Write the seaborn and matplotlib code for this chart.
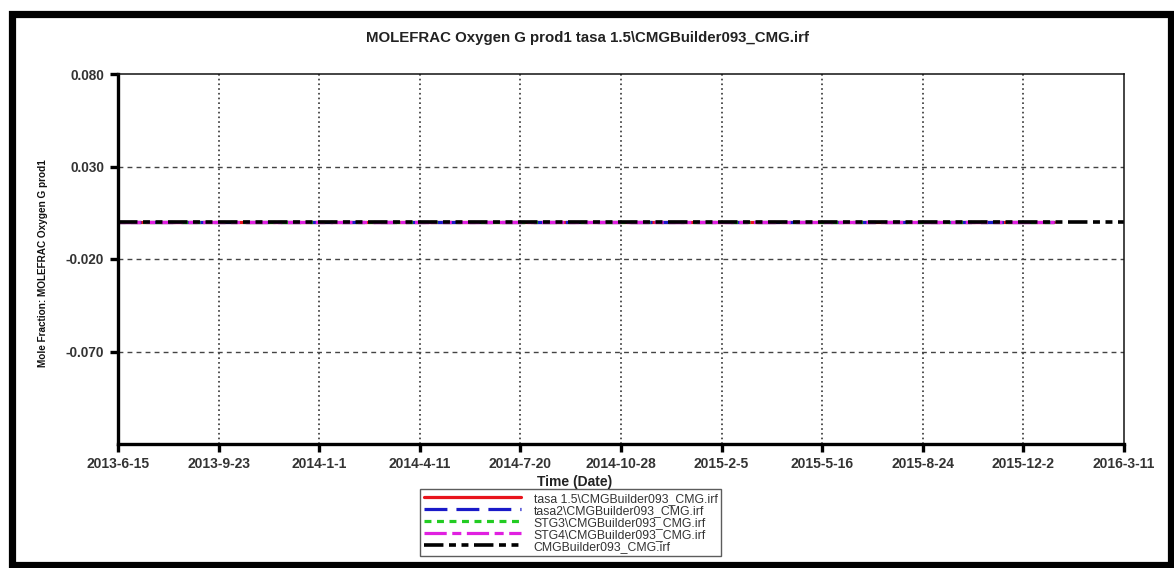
import numpy as np
import pandas as pd
import matplotlib
matplotlib.use('Agg')
import matplotlib.pyplot as plt
import seaborn as sns
from matplotlib.patches import Rectangle

# data
series_names = ['tasa 1.5\\CMGBuilder093_CMG.irf', 'tasa2\\CMGBuilder093_CMG.irf',
                'STG3\\CMGBuilder093_CMG.irf', 'STG4\\CMGBuilder093_CMG.irf',
                'CMGBuilder093_CMG.irf']
series_start = ['2013-06-15'] * 5
series_end = ['2016-01-01', '2016-01-01', '2016-01-01', '2016-01-01', '2016-03-11']
series_value = [0.0, 0.0, 0.0, 0.0, 0.0]
x_tick_labels = ['2013-6-15', '2013-9-23', '2014-1-1', '2014-4-11', '2014-7-20',
                 '2014-10-28', '2015-2-5', '2015-5-16', '2015-8-24', '2015-12-2', '2016-3-11']
y_ticks = [0.080, 0.030, -0.020, -0.070]

colors = ['#e8141c', '#1a1ac8', '#22cc22', '#e020e0', '#000000']
dash_styles = ['', (16.5, 6.5), (5, 4), (16, 4, 6.5, 4), (14, 4, 5, 4, 5, 4)]

rows = []
for name, s, e, v in zip(series_names, series_start, series_end, series_value):
    rows.append({'Series': name, 'Date': pd.to_datetime(s), 'Value': v})
    rows.append({'Series': name, 'Date': pd.to_datetime(e), 'Value': v})
df = pd.DataFrame(rows)

sns.set_style('ticks')
plt.rcParams['font.family'] = ['Liberation Sans', 'DejaVu Sans']
plt.rcParams['lines.scale_dashes'] = False

fig = plt.figure(figsize=(11.74, 5.68), dpi=100)
ax = fig.add_axes([118 / 1174, 1 - 444 / 568, 1006 / 1174, 370 / 568])

sns.lineplot(data=df, x='Date', y='Value', hue='Series', style='Series',
             palette=dict(zip(series_names, colors)),
             dashes=dict(zip(series_names, dash_styles)),
             hue_order=series_names, style_order=series_names,
             linewidth=2.3, legend=False, ax=ax)
ax.lines[4].set_linewidth(2.6)

tick_dates = pd.to_datetime(x_tick_labels)
ax.set_xlim(tick_dates[0], tick_dates[-1])
ax.set_ylim(-0.12, 0.08)
ax.set_xticks(tick_dates)
ax.set_xticklabels(x_tick_labels)
ax.set_yticks(y_ticks)
ax.set_yticklabels(['%.3f' % t for t in y_ticks])

for t in tick_dates[1:-1]:
    ax.axvline(t, color='#222222', lw=1.1, ls=(0, (1.2, 2.2)), zorder=0.5)
for t in y_ticks[1:]:
    ax.axhline(t, color='#444444', lw=1.0, ls=(0, (3.5, 3)), zorder=0.5)

for side in ['left', 'bottom']:
    ax.spines[side].set_linewidth(2.4)
    ax.spines[side].set_color('black')
for side in ['top', 'right']:
    ax.spines[side].set_visible(True)
    ax.spines[side].set_linewidth(1.1)
    ax.spines[side].set_color('#111111')

ax.tick_params(axis='both', direction='out', length=6, width=2.4, color='black',
               labelsize=10, labelcolor='#333333', pad=3)
ax.tick_params(axis='y', labelsize=9.8, pad=4)
for lab in ax.get_xticklabels() + ax.get_yticklabels():
    lab.set_fontweight('bold')

ax.set_xlabel('Time (Date)', fontsize=10, fontweight='bold', color='#222222')
ax.xaxis.set_label_coords((575 - 118) / 1006, -0.085)
ax.set_ylabel('Mole Fraction: MOLEFRAC Oxygen G prod1', fontsize=7.2, fontweight='bold',
              color='#111111')
ax.yaxis.set_label_coords((48 - 118) / 1006, 0.49)

fig.text(0.5, 1 - 38 / 568, 'MOLEFRAC Oxygen G prod1 tasa 1.5\\CMGBuilder093_CMG.irf',
         ha='center', va='center', fontsize=10.8, fontweight='bold', color='#222222')

leg = fig.legend(handles=ax.lines[:5], labels=series_names, loc='upper left',
                 bbox_to_anchor=(420 / 1174, 1 - 489 / 568), fontsize=8.8,
                 handlelength=8.0, handletextpad=1.0, labelspacing=0.0,
                 borderpad=0.3, frameon=True, fancybox=False, borderaxespad=0)
leg.get_frame().set_edgecolor('#333333')
leg.get_frame().set_linewidth(1.0)
for t in leg.get_texts():
    t.set_color('#333333')

fig.patches.append(Rectangle((11.5 / 1174, 3 / 568), 1159.5 / 1174, 551.5 / 568,
                             transform=fig.transFigure, fill=False,
                             edgecolor='black', linewidth=5.2))

fig.savefig('out.png', dpi=100)
